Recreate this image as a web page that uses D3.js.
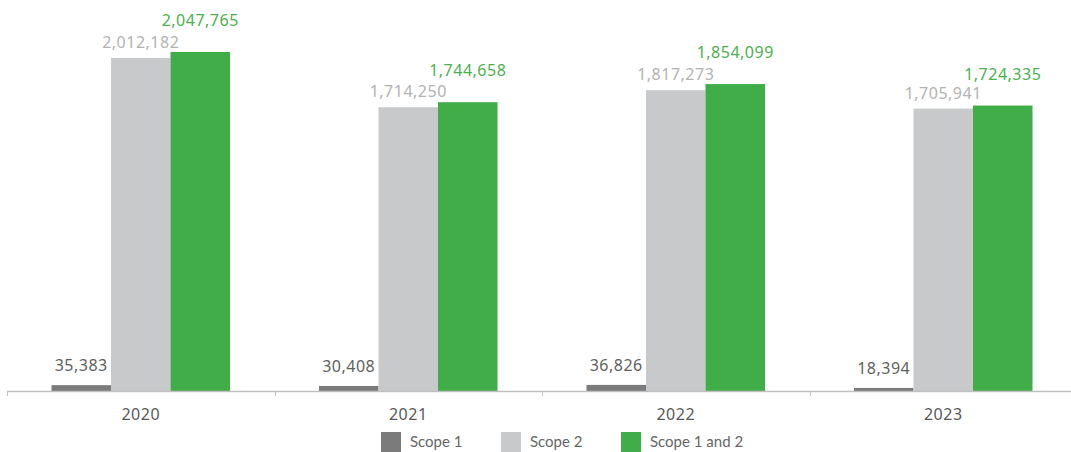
<!DOCTYPE html>
<html lang="en">
<head>
<meta charset="UTF-8">
<title>Scope 1 and 2 emissions</title>
<script src="https://d3js.org/d3.v7.min.js"></script>
<style>
  body { margin: 0; background: #fff; overflow: hidden; }
  .val { font-family: "Noto Sans", sans-serif; font-size: 16px; letter-spacing: 0.5px; }
  .year { font-family: "Noto Sans", sans-serif; font-size: 16px; fill: #595959; letter-spacing: 0.5px; }
  .leg { font-family: Lato, sans-serif; font-size: 15px; fill: #666; }
</style>
</head>
<body>
<div id="chart"></div>
<script>
// data
const years = ["2020", "2021", "2022", "2023"];
const series = ["Scope 1", "Scope 2", "Scope 1 and 2"];
const scope1 = [35383, 30408, 36826, 18394];
const scope2 = [2012182, 1714250, 1817273, 1705941];
const scope12 = [2047765, 1744658, 1854099, 1724335];

const values = [scope1, scope2, scope12];
const barColors = ["#7b7b7c", "#c8c9cb", "#41ad49"];
const labelColors = ["#5f5f5f", "#b3b3b3", "#4cb050"];
const labelOffset = [14, 10, 26];

const width = 1071, height = 452;
const svg = d3.select("#chart").append("svg")
    .attr("width", width).attr("height", height);

const x = d3.scaleBand().domain(years).range([7, 1077]).paddingInner(0).paddingOuter(0);
const xs = d3.scaleBand().domain(d3.range(series.length))
    .range([44.5, x.bandwidth() - 44.5]);
const y = d3.scaleLinear().domain([0, d3.max(scope12)]).range([391, 52]);

// bars + labels
series.forEach((s, si) => {
  const g = svg.append("g");
  g.selectAll("rect").data(values[si]).join("rect")
    .attr("x", (d, i) => x(years[i]) + xs(si))
    .attr("y", d => y(d))
    .attr("width", xs.bandwidth())
    .attr("height", d => y(0) - y(d))
    .attr("fill", barColors[si]);
  g.selectAll("text").data(values[si]).join("text")
    .attr("class", "val")
    .attr("x", (d, i) => x(years[i]) + xs(si) + xs.bandwidth() / 2)
    .attr("y", d => y(d) - labelOffset[si])
    .attr("text-anchor", "middle")
    .attr("fill", labelColors[si])
    .text(d => d3.format(",")(d));
});

// axis
const axis = svg.append("g");
axis.append("line")
  .attr("x1", 7).attr("x2", width).attr("y1", 391.5).attr("y2", 391.5)
  .attr("stroke", "#bfbfbf").attr("stroke-width", 1.3);
axis.selectAll(".tick").data(years.concat(["end"])).join("line")
  .attr("x1", (d, i) => Math.round(7 + i * x.step()) + 0.5)
  .attr("x2", (d, i) => Math.round(7 + i * x.step()) + 0.5)
  .attr("y1", 391).attr("y2", 396)
  .attr("stroke", "#bfbfbf");
axis.selectAll(".year").data(years).join("text")
  .attr("class", "year")
  .attr("x", d => x(d) + x.bandwidth() / 2)
  .attr("y", 420)
  .attr("text-anchor", "middle")
  .text(d => d);

// legend
const legX = [381, 501, 621];
const leg = svg.append("g");
series.forEach((s, si) => {
  leg.append("rect").attr("x", legX[si]).attr("y", 432)
    .attr("width", 20).attr("height", 20).attr("fill", barColors[si]);
  leg.append("text").attr("class", "leg")
    .attr("x", legX[si] + 29).attr("y", 447).text(s);
});
</script>
</body>
</html>
